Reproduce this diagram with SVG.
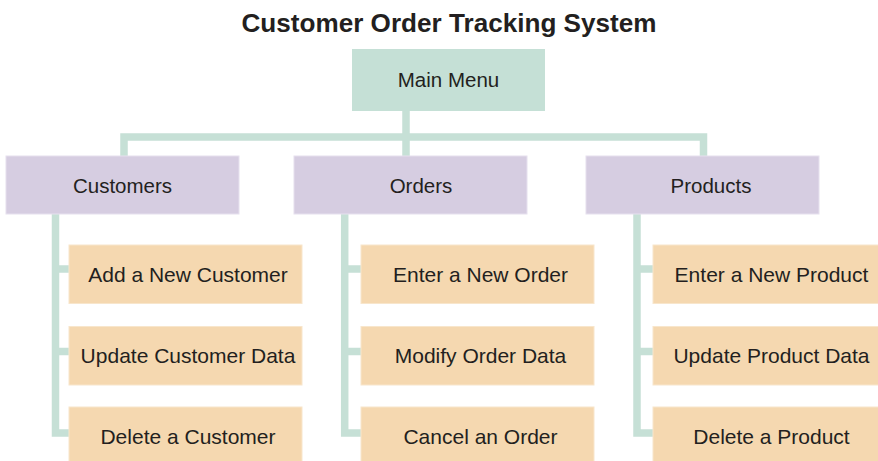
<svg xmlns="http://www.w3.org/2000/svg" width="878" height="461" viewBox="0 0 878 461">
<style>
.t{font-family:"Liberation Sans",Arial,Helvetica,sans-serif;fill:#231f20;text-anchor:middle}
.title{font-size:25px;font-weight:bold}
.l0,.l1{font-size:20.5px}
.l2{font-size:21px}
.main{fill:#c5e0d6}
.cat{fill:#d6cde1;stroke:#e6e0ee;stroke-width:1}
.item{fill:#f5d8b0;stroke:#f8e6cc;stroke-width:1}
.conn{fill:none;stroke:#c6e0d6;stroke-width:7.5;stroke-linejoin:miter;stroke-linecap:butt}
</style>
<rect width="878" height="461" fill="#ffffff"/>
<text class="t title" x="449" y="32" textLength="415" lengthAdjust="spacingAndGlyphs">Customer Order Tracking System</text>
<g id="connectors">
<path class="conn" d="M406,111 V156 M124,156 V137 H703.5 V156"/>
<path class="conn" d="M55.5,214 V433 H69 M55.5,269 H69 M55.5,351.5 H69"/>
<path class="conn" d="M344.7,214 V433 H361 M344.7,269 H361 M344.7,351.5 H361"/>
<path class="conn" d="M637,214 V433 H653 M637,269 H653 M637,351.5 H653"/>
</g>
<g id="main-menu"><rect class="main" x="352" y="49" width="193" height="62"/><text class="t l0" x="448.5" y="87">Main Menu</text></g>
<g id="customers"><rect class="cat" x="6" y="156" width="233" height="58"/><text class="t l1" x="122.5" y="192.5">Customers</text></g>
<g id="orders"><rect class="cat" x="294" y="156" width="233" height="58"/><text class="t l1" x="421" y="192.5">Orders</text></g>
<g id="products"><rect class="cat" x="586" y="156" width="233" height="58"/><text class="t l1" x="711" y="192.5">Products</text></g>
<g id="add-customer"><rect class="item" x="69" y="245" width="233" height="58.5"/><text class="t l2" x="188" y="281.8">Add a New Customer</text></g>
<g id="update-customer"><rect class="item" x="69" y="326.5" width="233" height="58.5"/><text class="t l2" x="188" y="363.3">Update Customer Data</text></g>
<g id="delete-customer"><rect class="item" x="69" y="407" width="233" height="58.5"/><text class="t l2" x="188" y="443.8">Delete a Customer</text></g>
<g id="enter-order"><rect class="item" x="361" y="245" width="233" height="58.5"/><text class="t l2" x="480.5" y="281.8">Enter a New Order</text></g>
<g id="modify-order"><rect class="item" x="361" y="326.5" width="233" height="58.5"/><text class="t l2" x="480.5" y="363.3">Modify Order Data</text></g>
<g id="cancel-order"><rect class="item" x="361" y="407" width="233" height="58.5"/><text class="t l2" x="480.5" y="443.8">Cancel an Order</text></g>
<g id="enter-product"><rect class="item" x="653" y="245" width="233" height="58.5"/><text class="t l2" x="771.5" y="281.8">Enter a New Product</text></g>
<g id="update-product"><rect class="item" x="653" y="326.5" width="233" height="58.5"/><text class="t l2" x="771.5" y="363.3">Update Product Data</text></g>
<g id="delete-product"><rect class="item" x="653" y="407" width="233" height="58.5"/><text class="t l2" x="771.5" y="443.8">Delete a Product</text></g>
</svg>
